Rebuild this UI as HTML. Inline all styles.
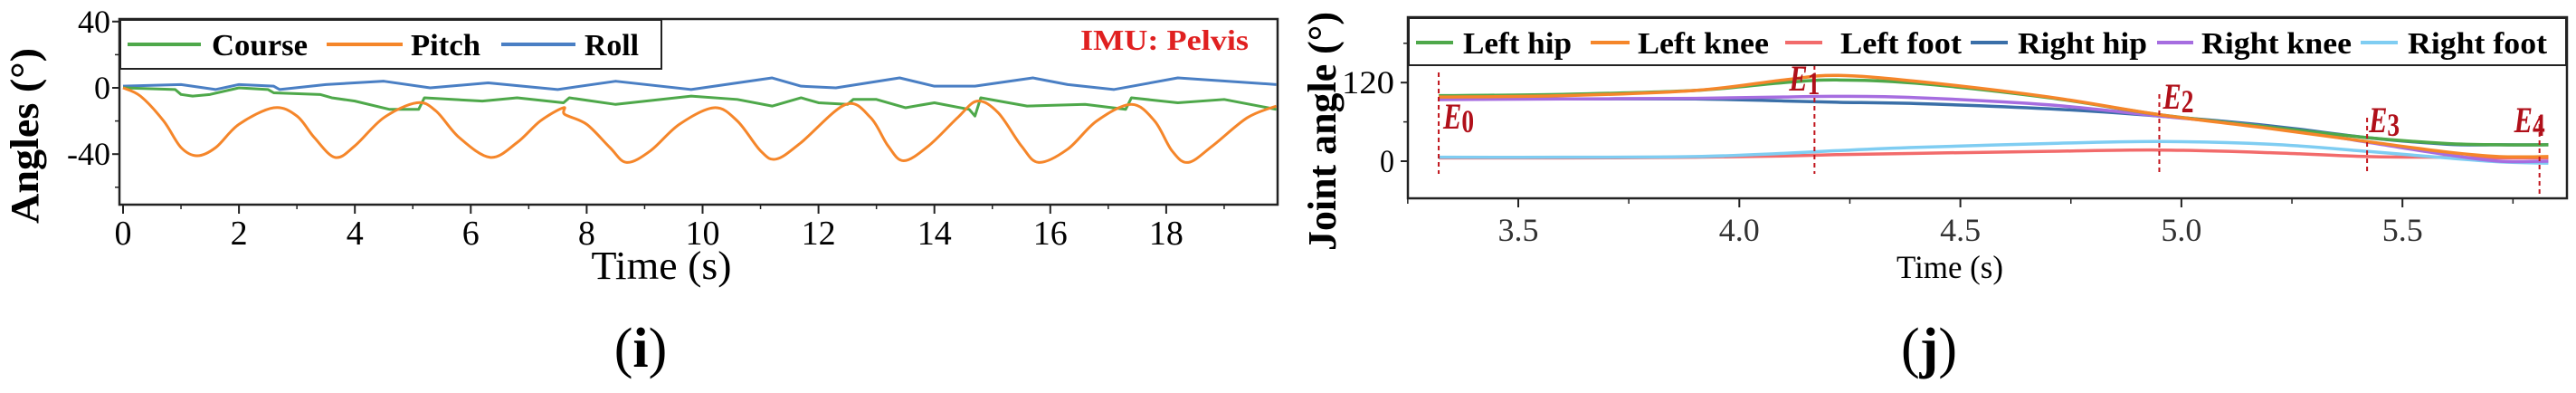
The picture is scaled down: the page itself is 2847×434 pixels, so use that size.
<!DOCTYPE html>
<html><head><meta charset="utf-8"><style>
html,body{margin:0;padding:0;background:#fff;}
svg{display:block;font-family:"Liberation Serif",serif;}
</style></head><body>
<svg id="fig" width="2847" height="434" viewBox="0 0 2847 434" xmlns="http://www.w3.org/2000/svg">
<g id="left"></g>
<g id="right"></g>
<text x="708" y="405" font-size="62" text-anchor="middle">(<tspan font-weight="bold">i</tspan>)</text>
<text x="2132" y="405" font-size="62" text-anchor="middle">(<tspan font-weight="bold">j</tspan>)</text>
</svg>
<script>
// ---- Left chart data ----
const pitchT=[0,0.3,0.7,1.0,1.28,1.6,2.0,2.6,3.0,3.3,3.66,4.0,4.5,5.07,5.4,5.8,6.34,6.8,7.2,7.6,7.62,8.0,8.4,8.69,9.1,9.6,10.2,10.6,11.0,11.27,11.7,12.47,12.9,13.2,13.47,13.9,14.4,14.74,15.1,15.5,15.8,16.3,16.8,17.4,17.8,18.1,18.38,18.8,19.4,19.9];
const pitchV=[0,-5,-20,-36,-41,-36,-22,-12,-17,-30,-42,-35,-18,-9,-14,-30,-42,-33,-20,-12,-16,-22,-36,-45,-38,-22,-12,-20,-38,-43,-33,-10,-18,-35,-44,-35,-18,-8,-15,-35,-45,-37,-20,-10,-20,-38,-45,-35,-18,-11];
const courseT=[0,0.9,1.0,1.2,1.5,2.0,2.5,2.6,3.4,3.6,4.0,4.6,5.1,5.2,6.2,6.8,7.6,7.7,8.5,9.8,10.6,11.2,11.7,12.0,12.5,12.6,13.0,13.5,14.0,14.6,14.7,14.8,15.6,16.6,17.3,17.4,18.2,19.0,19.9];
const courseV=[0,-1,-4,-5,-4,0,-1,-3,-4,-6,-8,-13,-13,-6,-8,-6,-9,-6,-10,-5,-7,-11,-6,-9,-10,-7,-7,-12,-9,-13,-17,-6,-11,-10,-13,-6,-9,-7,-13];
const rollT=[0,1,1.6,2.0,2.6,2.7,3.5,4.5,5.3,6.3,7.5,8.5,9.8,11.2,11.7,12.3,13.4,14.0,14.7,15.7,16.3,17.1,18.2,19.9];
const rollV=[1,2,-1,2,1,-1,2,4,0,3,-1,4,-1,6,1,0,6,1,1,6,2,-1,6,2];
const leftXTicks=[0,2,4,6,8,10,12,14,16,18];
const leftYTicks=[40,0,-40];
// ---- Right chart data ----
const jT=[3.32,3.6,3.9,4.1,4.22,4.4,4.7,4.95,5.2,5.42,5.6,5.72,5.83];
const leftHip=[100,102,108,120,124,119,97,71,52,36,27,25,25];
const leftKnee=[98,100,108,124,131,122,98,71,50,30,14,7,7];
const rightHip=[95,95,95,92,90,88,80,69,54,36,26,25,25];
const rightKnee=[94,95,96,98,99,97,86,69,52,29,10,0,0];
const leftFoot=[5,5,6,8,10,12,15,17,13,7,6,5,5];
const rightFoot=[6,6,7,12,16,21,27,30,26,15,5,-1,-3];
const events=[3.32,4.17,4.95,5.42,5.81];
const eventLabels=["0","1","2","3","4"];
const rightXTicks=[3.5,4.0,4.5,5.0,5.5];
const rightYTicks=[120,0];

const NS="http://www.w3.org/2000/svg";
function mk(tag,attrs,parent,txt){const e=document.createElementNS(NS,tag);for(const k in attrs)e.setAttribute(k,attrs[k]);if(txt!==undefined)e.textContent=txt;parent.appendChild(e);return e;}
function smooth(pts){let d="M"+pts[0][0]+","+pts[0][1];for(let i=0;i<pts.length-1;i++){const p0=pts[i-1]||pts[i],p1=pts[i],p2=pts[i+1],p3=pts[i+2]||p2;const c1x=p1[0]+(p2[0]-p0[0])/6,c1y=p1[1]+(p2[1]-p0[1])/6,c2x=p2[0]-(p3[0]-p1[0])/6,c2y=p2[1]-(p3[1]-p1[1])/6;d+=" C"+c1x+","+c1y+" "+c2x+","+c2y+" "+p2[0]+","+p2[1];}return d;}

// ===== Left chart =====
const L=document.getElementById('left');
const lx=t=>136+t*64.05, ly=v=>97-v*1.83;
mk('rect',{x:132,y:21,width:1280,height:205,fill:'none',stroke:'#222','stroke-width':2.5,},L);
leftXTicks.forEach(t=>{
 const g=mk('g',{},L);
 
 
 mk('line',{x1:lx(t),x2:lx(t),y1:226,y2:236,stroke:'#222','stroke-width':2},g);
 mk('line',{x1:lx(t+1),x2:lx(t+1),y1:226,y2:231,stroke:'#222','stroke-width':1.5},g);
 mk('text',{x:lx(t),y:270,'font-size':38,'text-anchor':'middle'},g,String(t));
});
leftYTicks.forEach(v=>{
 const g=mk('g',{},L);
 
 
 mk('line',{x1:124,x2:132,y1:ly(v),y2:ly(v),stroke:'#222','stroke-width':2},g);
 mk('line',{x1:127,x2:132,y1:ly(v-20),y2:ly(v-20),stroke:'#222','stroke-width':1.5},g);
 mk('text',{x:122,y:ly(v)+12,'font-size':36,'text-anchor':'end'},g,String(v));
});
mk('text',{x:731,y:308,'font-size':44,'text-anchor':'middle',textLength:155,lengthAdjust:'spacingAndGlyphs',},L,'Time (s)');
mk('text',{x:0,y:0,'font-size':44,'font-weight':'bold','text-anchor':'middle',transform:'translate(42,150) rotate(-90)',textLength:194,lengthAdjust:'spacingAndGlyphs',},L,'Angles (°)');
function series(parent,T,V,fx,fy,color,name,sm,w){
 const pts=T.map((t,i)=>[fx(t),fy(V[i])]);
 const p=mk('path',{d:sm?smooth(pts):'M'+pts.map(p=>p.join(',')).join(' L'),fill:'none',stroke:color,'stroke-width':w||2.5,'stroke-linejoin':'round'},parent);
 
 
}
series(L,rollT,rollV,lx,ly,'#4a7fc4','roll-line',false,3);
series(L,courseT,courseV,lx,ly,'#4ea84a','course-line',false,3);
series(L,pitchT,pitchV,lx,ly,'#f5862a','pitch-line',true,3);
// legend
const lg=mk('g',{},L);
mk('rect',{x:133,y:22,width:598,height:54,fill:'#fff',stroke:'#222','stroke-width':2},lg);
[['Course','#4ea84a',141,222,234,106],['Pitch','#f5862a',361,445,454,77],['Roll','#4a7fc4',554,636,646,60]].forEach(e=>{
 const g=mk('g',{},lg);
 
 
 mk('line',{x1:e[2],x2:e[3],y1:49,y2:49,stroke:e[1],'stroke-width':4},g);
 mk('text',{x:e[4],y:61,'font-size':34,'font-weight':'bold',textLength:e[5],lengthAdjust:'spacingAndGlyphs'},g,e[0]);
});
mk('text',{x:1194,y:55,'font-size':32,'font-weight':'bold',fill:'#e02020',textLength:186,lengthAdjust:'spacingAndGlyphs',},L,'IMU: Pelvis');

// ===== Right chart =====
const R=document.getElementById('right');
const rx=t=>1678+(t-3.5)*488.6, ry=v=>178-v*0.7233;
mk('rect',{x:1556,y:19,width:1281,height:200,fill:'none',stroke:'#222','stroke-width':2.5,},R);
rightXTicks.forEach(t=>{
 const g=mk('g',{},R);
 
 
 mk('line',{x1:rx(t),x2:rx(t),y1:219,y2:229,stroke:'#222','stroke-width':2},g);
 mk('line',{x1:rx(t+0.25),x2:rx(t+0.25),y1:219,y2:225,stroke:'#222','stroke-width':1.5},g);
 mk('text',{x:rx(t),y:266,'font-size':36,'text-anchor':'middle',fill:'#333'},g,t.toFixed(1));
});
mk('line',{x1:rx(3.25),x2:rx(3.25),y1:219,y2:225,stroke:'#222','stroke-width':1.5},R);
rightYTicks.forEach(v=>{
 const g=mk('g',{},R);
 
 
 mk('line',{x1:1548,x2:1556,y1:ry(v),y2:ry(v),stroke:'#222','stroke-width':2},g);
 mk('line',{x1:1551,x2:1556,y1:ry(v+60),y2:ry(v+60),stroke:'#222','stroke-width':1.5},g);
 mk('text',{x:1541,y:ry(v)+12,'font-size':36,'text-anchor':'end',textLength:v>99?58:16,lengthAdjust:'spacingAndGlyphs'},g,String(v));
});
mk('text',{x:2155,y:307,'font-size':36,'text-anchor':'middle',textLength:118,lengthAdjust:'spacingAndGlyphs',},R,'Time (s)');
mk('text',{x:0,y:0,'font-size':44,'font-weight':'bold','text-anchor':'middle',transform:'translate(1476,145) rotate(-90)',textLength:264,lengthAdjust:'spacingAndGlyphs',},R,'Joint angle (°)');
series(R,jT,leftFoot,rx,ry,'#f26b6b','left-foot-line',true,3.5);
series(R,jT,rightFoot,rx,ry,'#7fcdf2','right-foot-line',true,3.5);
series(R,jT,rightHip,rx,ry,'#3a6fa8','right-hip-line',true,3.5);
series(R,jT,rightKnee,rx,ry,'#a66de0','right-knee-line',true,3.5);
series(R,jT,leftHip,rx,ry,'#4ea84a','left-hip-line',true,3.5);
series(R,jT,leftKnee,rx,ry,'#f5862a','left-knee-line',true,3.5);
const labY=[142,100,120,146,146], labDx=[5,-28,4,2,-28];
events.forEach((t,i)=>{
 const g=mk('g',{},R);
 
 
 mk('line',{x1:rx(t),x2:rx(t),y1:i==1?72:i==0?80:i==2?104:i==3?130:128,y2:i==0||i==1?192:i==4?216:192,stroke:'#c0141c','stroke-width':2,'stroke-dasharray':'5,4'},g);
 const tx=mk('text',{x:rx(t)+labDx[i],y:labY[i],'font-size':40,'font-style':'italic','font-weight':'bold',fill:'#b0101a',textLength:34,lengthAdjust:'spacingAndGlyphs'},g,'E');
 mk('tspan',{'font-size':36,'font-style':'normal',dy:4},tx,eventLabels[i]);
});
const rg=mk('g',{},R);
mk('rect',{x:1557,y:20,width:1279,height:52,fill:'#fff',stroke:'#222','stroke-width':2},rg);
[['Left hip','#4ea84a',1565,1606,1617,120],['Left knee','#f5862a',1758,1801,1810,145],['Left foot','#f26b6b',1973,2014,2034,134],['Right hip','#3a6fa8',2178,2219,2230,143],['Right knee','#a66de0',2384,2424,2433,166],['Right foot','#7fcdf2',2609,2650,2661,154]].forEach(e=>{
 const g=mk('g',{},rg);
 
 
 mk('line',{x1:e[2],x2:e[3],y1:47,y2:47,stroke:e[1],'stroke-width':4},g);
 mk('text',{x:e[4],y:59,'font-size':34,'font-weight':'bold',textLength:e[5],lengthAdjust:'spacingAndGlyphs'},g,e[0]);
});
</script>
</body></html>
